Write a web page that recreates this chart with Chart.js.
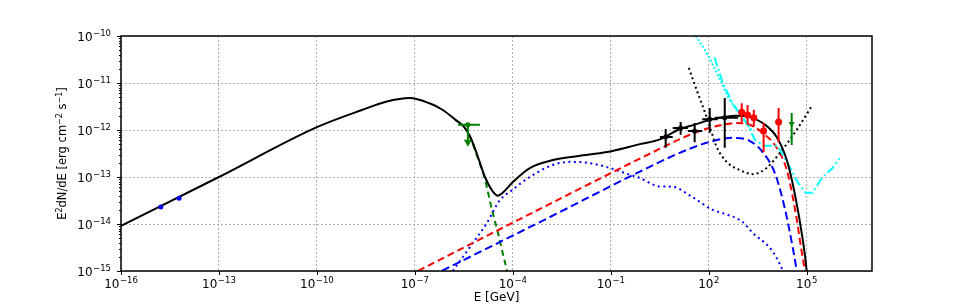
<!DOCTYPE html>
<html>
<head>
<meta charset="utf-8">
<script src="https://cdn.jsdelivr.net/npm/chart.js@4.4.0/dist/chart.umd.min.js"></script>
<style>
  html, body { margin: 0; padding: 0; background: #fff; }
  #wrap { width: 969px; height: 305px; }
</style>
</head>
<body>
<div id="wrap"><canvas id="sed" width="969" height="305"></canvas></div>
<script>
(function () {
  "use strict";

  // ---- model curves (E in GeV, E^2 dN/dE in erg cm^-2 s^-1) ----
  const totalE = [1e-16, 1e-13, 1e-10, 2.5e-9, 1.3e-8, 7e-8, 2.8e-7, 7e-7, 1.8e-6, 3.2e-6, 5e-6, 8.5e-6,
    1.4e-5, 2.3e-5, 3.5e-5, 4.9e-5, 1e-4, 3.3e-4, 1.7e-3, 1e-2, 7.6e-2, 0.38, 0.78, 3.2, 12.9, 40, 100,
    270, 720, 1780, 4470, 12000, 24500, 42700, 75900, 1e5, 1.12e5];
  const totalF = [9.1e-15, 1e-13, 1.15e-12, 2.7e-12, 4.0e-12, 4.8e-12, 3.7e-12, 2.7e-12, 1.62e-12, 1.17e-12,
    7.1e-13, 2.7e-13, 1e-13, 5.2e-14, 4.0e-14, 4.6e-14, 7.8e-14, 1.55e-13, 2.3e-13, 2.8e-13, 3.4e-13,
    4.4e-13, 5e-13, 6.3e-13, 1.05e-12, 1.32e-12, 1.62e-12, 1.86e-12, 2.0e-12, 1.9e-12, 1.41e-12, 7.1e-13,
    2.3e-13, 4.6e-14, 4.6e-15, 1e-15, 3.2e-16];

  const syncE = [1.8e-6, 3.2e-6, 5e-6, 8.5e-6, 1.4e-5, 2.3e-5, 3.5e-5, 4.9e-5, 6.6e-5, 7.9e-5];
  const syncF = [1.62e-12, 1.17e-12, 6.9e-13, 2.5e-13, 8.9e-14, 2.0e-14, 6.5e-15, 2.4e-15, 1e-15, 5e-16];

  const icE = [1.45e-6, 4.8e-6, 1.6e-5, 4e-5, 9.3e-5, 3.3e-4, 1.6e-3, 5.5e-3, 2e-2, 7.6e-2, 0.38, 0.78,
    3.2, 7.9, 32, 132, 270, 1100, 2200, 7200, 12000, 18600, 22000];
  const icF = [1e-15, 3.2e-15, 1.05e-14, 3.2e-14, 5.2e-14, 1e-13, 1.78e-13, 2.1e-13, 2.0e-13, 1.62e-13,
    1.12e-13, 9.5e-14, 6.3e-14, 6.2e-14, 3.7e-14, 2.0e-14, 1.7e-14, 1.1e-14, 6.5e-15, 3.2e-15, 1.9e-15,
    1e-15, 7e-16];

  const hadRedE = [6.3e-8, 1e-3, 3.2, 15.8, 100, 316, 720, 1780, 4470, 12000, 24500, 42700, 70800, 87000, 1e5];
  const hadRedF = [7.9e-16, 2.4e-14, 4.0e-13, 6.8e-13, 1.1e-12, 1.32e-12, 1.41e-12, 1.29e-12, 8.7e-13,
    4.2e-13, 1.41e-13, 2.3e-14, 2.5e-15, 1e-15, 3.2e-16];

  const hadBlueE = [3.2e-7, 1e-3, 3.2, 20, 100, 537, 1780, 4470, 10500, 20900, 37200, 49000, 56000];
  const hadBlueF = [7.8e-16, 1.26e-14, 2.1e-13, 3.7e-13, 5.5e-13, 6.8e-13, 5.9e-13, 3.4e-13, 1.23e-13,
    2.3e-14, 3.2e-15, 1e-15, 4e-16];

  // ---- sensitivity curves ----
  const sensE = [24.5, 42.7, 93, 174, 355, 890, 2240, 5900, 14800, 49000, 141000];
  const sensF = [2.1e-11, 7.1e-12, 1.62e-12, 4.4e-13, 2.1e-13, 1.41e-13, 1.15e-13, 1.55e-13, 3.2e-13, 1e-12, 3.2e-12];

  const cyanDotE = [40, 93, 190, 437, 1020, 2090];
  const cyanDotF = [1e-10, 4e-11, 1.48e-11, 4.4e-12, 1.9e-12, 1e-12];

  const cyanDashE = [151, 270, 537, 1450, 2570, 5100, 12900, 30200, 52500, 93000, 151000, 288000, 617000, 1.02e6];
  const cyanDashF = [3.5e-11, 1e-11, 3.7e-12, 1.41e-12, 6.2e-13, 4.6e-13, 4.6e-13, 1.62e-13, 7.8e-14,
    4.6e-14, 4.6e-14, 9.5e-14, 1.55e-13, 2.5e-13];

  // ---- measured points ----
  const radioE = [1.66e-15, 6.0e-15];
  const radioF = [2.29e-14, 3.55e-14];
  const radioFLo = [2.15e-14, 3.25e-14];
  const radioFHi = [2.45e-14, 3.9e-14];

  const ulE = [4.2e-6];
  const ulF = [1.29e-12];
  const ulELo = [2.1e-6];
  const ulEHi = [9.8e-6];
  const ulTip = [4.4e-13];

  const latE = [4.8, 13.8, 37, 107, 309];
  const latF = [7.1e-13, 1.1e-12, 9.5e-13, 1.7e-12, 1.82e-12];
  const latELo = [3.2, 7.9, 22.9, 63, 158];
  const latEHi = [7.9, 22.9, 63, 190, 800];
  const latFLo = [4.2e-13, 7.9e-13, 5.5e-13, 8.7e-13, 4.2e-13];
  const latFHi = [1.05e-12, 1.48e-12, 1.41e-12, 2.95e-12, 4.8e-12];

  const hessE = [1023, 1549, 2400, 4790, 13800];
  const hessF = [2.4e-12, 2.09e-12, 1.82e-12, 9.5e-13, 1.48e-12];
  const hessELo = [850, 1300, 2000, 4000, 11500];
  const hessEHi = [1230, 1850, 2900, 5750, 16600];
  const hessFLo = [1.48e-12, 1.29e-12, 1.17e-12, 3.4e-13, 5.5e-13];
  const hessFHi = [3.7e-12, 3.4e-12, 2.7e-12, 1.41e-12, 2.95e-12];

  const tevE = [34700];
  const tevF = [1.35e-12];
  const tevFLo = [4.8e-13];
  const tevFHi = [2.3e-12];

  // ---- axes: tick values and their exponent labels (drawn as 10^exp) ----
  const xTickValues = [1e-16, 1e-13, 1e-10, 1e-7, 1e-4, 1e-1, 1e2, 1e5];
  const xTickExps = ["\u221216", "\u221213", "\u221210", "\u22127", "\u22124", "\u22121", "2", "5"];
  const yTickValues = [1e-15, 1e-14, 1e-13, 1e-12, 1e-11, 1e-10];
  const yTickExps = ["\u221215", "\u221214", "\u221213", "\u221212", "\u221211", "\u221210"];
  // y label: [text, isSuperscript]
  const yTitleParts = [["E", false], ["2", true], ["dN/dE [erg cm", false], ["\u22122", true],
    [" s", false], ["\u22121", true], ["]", false]];

  const FAMILY = "'DejaVu Sans', sans-serif";
  const BASE_FONT = "12px " + FAMILY;
  const EXP_FONT = "8.5px " + FAMILY;

  const pts = (xs, ys) => xs.map((x, i) => ({ x: x, y: ys[i] }));
  const isDecade = (v) => Math.abs(Math.log10(v) - Math.round(Math.log10(v))) < 1e-6;

  function curve(xs, ys, color, dash, width, smooth) {
    return {
      data: pts(xs, ys),
      showLine: true,
      borderColor: color,
      backgroundColor: color,
      borderWidth: width,
      borderDash: dash,
      pointRadius: 0,
      pointHoverRadius: 0,
      cubicInterpolationMode: smooth ? "monotone" : "default",
      tension: 0,
      clip: 0,
    };
  }

  function points(xs, ys, color, radius, style, errors) {
    return {
      data: pts(xs, ys),
      showLine: false,
      borderColor: color,
      backgroundColor: color,
      pointRadius: radius,
      pointStyle: style,
      pointRotation: style === "triangle" ? 180 : 0,
      pointBorderWidth: 0,
      errors: errors,
    };
  }

  // powWidth / drawPow render "10" with a raised, smaller exponent the way
  // matplotlib's mathtext does.
  function powWidth(ctx, exp) {
    ctx.font = BASE_FONT;
    const wb = ctx.measureText("10").width;
    ctx.font = EXP_FONT;
    return wb + 0.5 + ctx.measureText(exp).width;
  }

  function drawPow(ctx, exp, left, baseline) {
    ctx.font = BASE_FONT;
    ctx.fillText("10", left, baseline);
    const wb = ctx.measureText("10").width;
    ctx.font = EXP_FONT;
    ctx.fillText(exp, left + wb + 0.5, baseline - 4.8);
  }

  // errorBars draws x/y error bars and upper-limit arrows stored on each
  // point dataset, through the chart's own scales.
  const errorBars = {
    id: "errorBars",
    afterDatasetsDraw(chart) {
      const { ctx, scales: { x, y } } = chart;
      chart.data.datasets.forEach((ds) => {
        const e = ds.errors;
        if (!e) return;
        ctx.save();
        ctx.strokeStyle = ds.borderColor;
        ctx.fillStyle = ds.borderColor;
        ctx.lineWidth = e.width;
        ds.data.forEach((p, i) => {
          const px = x.getPixelForValue(p.x);
          const py = y.getPixelForValue(p.y);
          ctx.beginPath();
          if (e.yLo) {
            ctx.moveTo(px, y.getPixelForValue(e.yLo[i]));
            ctx.lineTo(px, y.getPixelForValue(e.yHi[i]));
          }
          if (e.xLo) {
            ctx.moveTo(x.getPixelForValue(e.xLo[i]), py);
            ctx.lineTo(x.getPixelForValue(e.xHi[i]), py);
          }
          if (e.tip) {
            ctx.moveTo(px, py);
            ctx.lineTo(px, y.getPixelForValue(e.tip[i]) - 4);
          }
          ctx.stroke();
          if (e.tip) {
            const ty = y.getPixelForValue(e.tip[i]);
            ctx.beginPath();
            ctx.moveTo(px - 4, ty - 7);
            ctx.lineTo(px + 4, ty - 7);
            ctx.lineTo(px, ty);
            ctx.closePath();
            ctx.fill();
          }
        });
        ctx.restore();
      });
    },
  };

  // frame draws the spines, outward tick marks (short for minors), the
  // 10^n tick labels and the y-axis title with superscripts.
  const frame = {
    id: "frame",
    afterDraw(chart) {
      const { ctx, chartArea: a, scales: { x, y } } = chart;
      ctx.save();
      ctx.strokeStyle = "#000";
      ctx.fillStyle = "#000";
      ctx.lineWidth = 1;
      ctx.beginPath();
      y.ticks.forEach((t) => {
        const py = Math.round(y.getPixelForValue(t.value)) + 0.5;
        const len = isDecade(t.value) ? 4 : 2;
        ctx.moveTo(a.left - len, py);
        ctx.lineTo(a.left, py);
      });
      x.ticks.forEach((t) => {
        const px = Math.round(x.getPixelForValue(t.value)) + 0.5;
        ctx.moveTo(px, a.bottom);
        ctx.lineTo(px, a.bottom + 4);
      });
      ctx.stroke();
      ctx.lineWidth = 1.5;
      ctx.strokeRect(a.left, a.top, a.right - a.left, a.bottom - a.top);

      ctx.textAlign = "left";
      ctx.textBaseline = "alphabetic";
      xTickValues.forEach((v, i) => {
        const w = powWidth(ctx, xTickExps[i]);
        drawPow(ctx, xTickExps[i], x.getPixelForValue(v) - w / 2, a.bottom + 16.5);
      });
      yTickValues.forEach((v, i) => {
        const w = powWidth(ctx, yTickExps[i]);
        drawPow(ctx, yTickExps[i], a.left - 10 - w, y.getPixelForValue(v) + 5);
      });

      // y title, rotated, centred on the plot area
      ctx.translate(66, (a.top + a.bottom) / 2);
      ctx.rotate(-Math.PI / 2);
      const big = "11.5px " + FAMILY;
      const small = "8px " + FAMILY;
      let total = 0;
      yTitleParts.forEach(([t, sup]) => {
        ctx.font = sup ? small : big;
        total += ctx.measureText(t).width;
      });
      let cx = -total / 2;
      yTitleParts.forEach(([t, sup]) => {
        ctx.font = sup ? small : big;
        ctx.fillText(t, cx, sup ? -4.5 : 0);
        cx += ctx.measureText(t).width;
      });
      ctx.restore();
    },
  };

  Chart.defaults.font.family = FAMILY;
  Chart.defaults.color = "#000";

  const gridColor = (c) => (c.tick && isDecade(c.tick.value) ? "#b0b0b0" : "rgba(0,0,0,0)");

  new Chart(document.getElementById("sed"), {
    type: "scatter",
    data: {
      datasets: [
        points(radioE, radioF, "#0000ff", 2.5, "circle", { yLo: radioFLo, yHi: radioFHi, width: 1.5 }),
        points(ulE, ulF, "#008000", 2.5, "circle", { xLo: ulELo, xHi: ulEHi, tip: ulTip, width: 2 }),
        points(latE, latF, "#000000", 2.5, "circle",
          { xLo: latELo, xHi: latEHi, yLo: latFLo, yHi: latFHi, width: 2 }),
        points(hessE, hessF, "#ff0000", 3.5, "circle",
          { xLo: hessELo, xHi: hessEHi, yLo: hessFLo, yHi: hessFHi, width: 2 }),
        points(tevE, tevF, "#008000", 3.5, "triangle", { yLo: tevFLo, yHi: tevFHi, width: 2 }),
        curve(totalE, totalF, "#000000", [], 2, true),
        curve(cyanDashE, cyanDashF, "#00ffff", [9, 3, 2, 3], 2, false),
        curve(cyanDotE, cyanDotF, "#00ffff", [2, 2], 2, true),
        curve(sensE, sensF, "#000000", [2, 3], 2, true),
        curve(hadRedE, hadRedF, "#ff0000", [7, 4], 2, true),
        curve(hadBlueE, hadBlueF, "#0000ff", [8, 4], 2, true),
        curve(icE, icF, "#0000ff", [2, 3.5], 2, true),
        curve(syncE, syncF, "#008000", [6, 4], 2, true),
      ],
    },
    options: {
      responsive: false,
      animation: false,
      events: [],
      layout: { padding: { left: 0, right: 97, top: 36, bottom: 0 } },
      plugins: { legend: { display: false }, tooltip: { enabled: false } },
      scales: {
        x: {
          type: "logarithmic",
          min: 1e-16,
          max: 1e7,
          afterBuildTicks: (s) => { s.ticks = xTickValues.map((v) => ({ value: v })); },
          afterFit: (s) => { s.height = 34; },
          ticks: { display: false, autoSkip: false },
          grid: { color: gridColor, lineWidth: 1, drawTicks: false },
          border: { display: false, dash: [2, 2] },
          title: { display: true, text: "E [GeV]", font: { size: 12 }, padding: { top: 0, bottom: 0 } },
        },
        y: {
          type: "logarithmic",
          min: 1e-15,
          max: 1e-10,
          afterBuildTicks: (s) => {
            const ticks = [];
            yTickValues.forEach((v, i) => {
              ticks.push({ value: v });
              if (i < yTickValues.length - 1) {
                for (let m = 2; m <= 9; m++) ticks.push({ value: m * v });
              }
            });
            s.ticks = ticks;
          },
          afterFit: (s) => { s.width = 121; },
          ticks: { display: false, autoSkip: false },
          grid: { color: gridColor, lineWidth: 1, drawTicks: false },
          border: { display: false, dash: [2, 2] },
        },
      },
    },
    plugins: [errorBars, frame],
  });
})();
</script>
</body>
</html>
